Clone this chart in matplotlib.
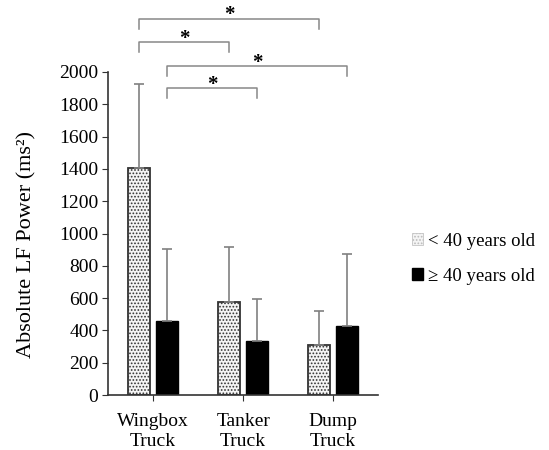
import matplotlib
matplotlib.use("Agg")
import matplotlib.pyplot as plt
from matplotlib.patches import Patch
import numpy as np

plt.rcParams['font.family'] = ['Liberation Serif', 'DejaVu Serif']
plt.rcParams['hatch.color'] = '#9a9a9a'
plt.rcParams['hatch.linewidth'] = 0.8

trucks = ["Wingbox\nTruck", "Tanker\nTruck", "Dump\nTruck"]
young_mean = [1407, 578, 310]
young_sd = [519, 340, 210]
old_mean = [460, 336, 427]
old_sd = [446, 258, 444]
series_labels = ["< 40 years old", "\u2265 40 years old"]

# significance brackets: (group a, series a, group b, series b, level)
brackets = [
    (0, 0, 2, 0, 2330),
    (0, 0, 1, 0, 2186),
    (0, 1, 2, 1, 2037),
    (0, 1, 1, 1, 1901),
]

x = np.arange(len(trucks)) + 0.5
w = 0.245
off = 0.155

fig = plt.figure(figsize=(5.49, 4.5), dpi=100)
ax = fig.add_axes([0.197, 0.122, 0.492, 0.718])

err_kw = dict(ecolor='#808080', elinewidth=1.2, capsize=3.5, capthick=1.2)
ax.bar(x - off, young_mean, w, yerr=[np.zeros(3), young_sd], color='#f4f4f4',
       edgecolor='#333333', linewidth=1.3, hatch='.....', error_kw=err_kw, zorder=2)
ax.bar(x + off, old_mean, w, yerr=[np.zeros(3), old_sd], color='black',
       edgecolor='black', linewidth=1.0, error_kw=err_kw, zorder=2)

ax.set_xlim(0, 3)
ax.set_ylim(0, 2000)
ax.set_yticks(range(0, 2001, 200))
ax.set_xticks(x)
ax.set_xticklabels(trucks, fontsize=14, linespacing=1.2)
ax.tick_params(axis='y', labelsize=14, length=4, color='#333333', pad=3)
ax.tick_params(axis='x', length=4, color='#333333', pad=9)
for s in ['top', 'right']:
    ax.spines[s].set_visible(False)
for s in ['left', 'bottom']:
    ax.spines[s].set_color('#333333')
    ax.spines[s].set_linewidth(1.2)
ax.set_ylabel("Absolute LF Power (ms\u00b2)", fontsize=16)
ax.yaxis.set_label_coords(-0.265, 0.467)

drop = 62
for ga, sa, gb, sb, lvl in brackets:
    xa = x[ga] + (off if sa else -off)
    xb = x[gb] + (off if sb else -off)
    ax.plot([xa, xa, xb, xb], [lvl - drop, lvl, lvl, lvl - drop], color='#888888',
            linewidth=1.1, clip_on=False)
    ax.text((xa + xb) / 2, lvl + 20, "*", ha='center', va='center', fontsize=15,
            fontweight='bold', clip_on=False)

handles = [Patch(facecolor='#f4f4f4', edgecolor='#bbbbbb', hatch='.....', linewidth=0.5),
           Patch(facecolor='black', edgecolor='black')]
fig.legend(handles, series_labels, loc='upper left', bbox_to_anchor=(0.72, 0.52),
           frameon=False, fontsize=13.5, handlelength=0.6, handleheight=0.6,
           handletextpad=0.25, labelspacing=0.95)

fig.savefig("out.png", dpi=100)
